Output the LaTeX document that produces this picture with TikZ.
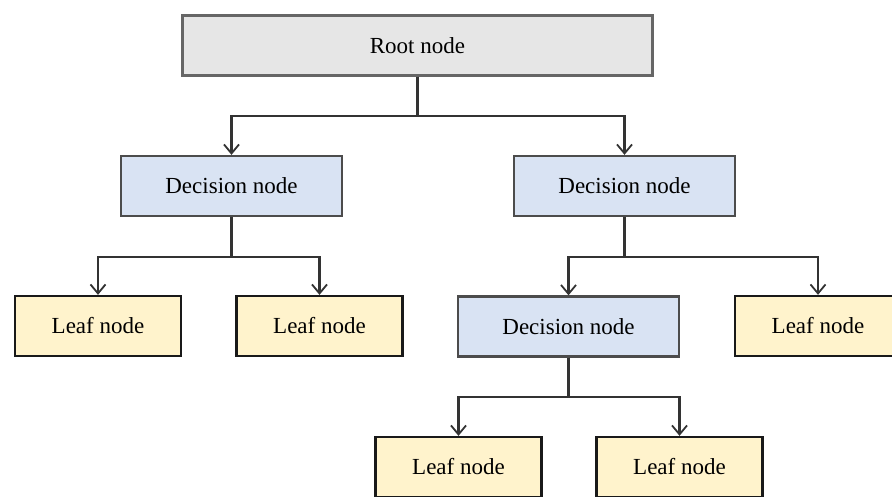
\documentclass[tikz,border=0pt]{standalone}
\usepackage{fontspec}
\setmainfont{Liberation Serif}
\usetikzlibrary{arrows.meta}
\definecolor{rootfill}{HTML}{E6E6E6}
\definecolor{decfill}{HTML}{D9E3F3}
\definecolor{leaffill}{HTML}{FFF3CC}
\begin{document}
\begin{tikzpicture}[
        x=1pt, y=-1pt,
        every node/.style={rectangle, draw, line width=2.3pt, inner sep=0pt, minimum height=60pt,
            font=\fontsize{23}{27}\selectfont},
        rootbox/.style={fill=rootfill, draw=black!60, minimum width=470pt},
        decbox/.style={fill=decfill, draw=black!70, minimum width=221pt},
        leafbox/.style={fill=leaffill, draw=black!90, minimum width=166pt},
        arr/.style={draw=black!80, line width=2.2pt, -{Straight Barb[length=9pt, width=15pt, line width=1.8pt]}}
    ]
        \useasboundingbox (0,0) rectangle (892,496);

        % Các nút của cây
        \node[rootbox] (root) at (417.5,45.5) {Root node};
        \node[decbox] (D1) at (231.5,186) {Decision node};
        \node[decbox] (D2) at (624.5,186) {Decision node};
        \node[leafbox] (L1) at (98,326) {Leaf node};
        \node[leafbox] (L2) at (319.5,326) {Leaf node};
        \node[decbox] (D3) at (568.5,326.5) {Decision node};
        \node[leafbox] (L3) at (818,326) {Leaf node};
        \node[leafbox] (L4) at (458.5,467) {Leaf node};
        \node[leafbox] (L5) at (679.5,467) {Leaf node};

        % Các cạnh nối
        \draw[arr] (root.south) -- ++(0,39.5) -| (D1.north);
        \draw[arr] (root.south) -- ++(0,39.5) -| (D2.north);
        \draw[arr] (D1.south) -- ++(0,39.5) -| (L1.north);
        \draw[arr] (D1.south) -- ++(0,39.5) -| (L2.north);
        \draw[arr] (D2.south) -- ++(0,39.5) -| (D3.north);
        \draw[arr] (D2.south) -- ++(0,39.5) -| (L3.north);
        \draw[arr] (D3.south) -- ++(0,39.5) -| (L4.north);
        \draw[arr] (D3.south) -- ++(0,39.5) -| (L5.north);
    \end{tikzpicture}
\end{document}
